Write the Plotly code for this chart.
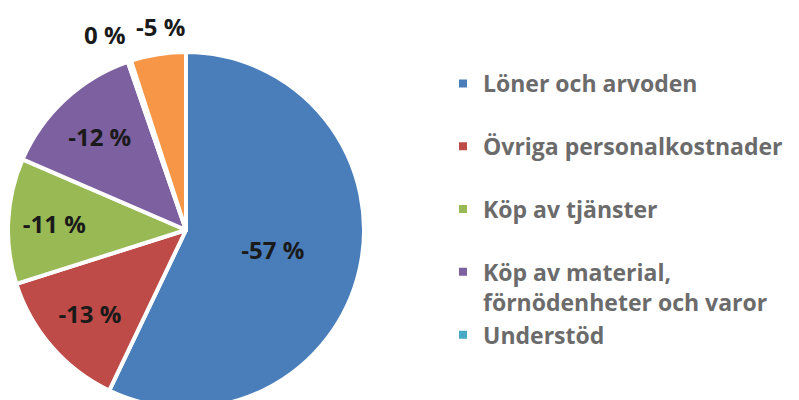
import plotly.graph_objects as go

categories = ["Löner och arvoden", "Övriga personalkostnader", "Köp av tjänster",
              "Köp av material,<br>förnödenheter och varor", "Understöd", "Övriga kostnader"]
shares = [57.1, 13.0, 11.4, 13.2, 0.3, 5.0]
label_values = [-57, -13, -11, -12, 0, -5]
colors = ["#4A7EBB", "#BE4B48", "#98B954", "#7D60A0", "#46AAC5", "#F79646"]

W, H = 799, 408

legend_labels = [c if "<br>" in c else c + "<br>\u00a0" for c in categories]
texts = [f"{v} %" for v in label_values]
positions = ["inside", "inside", "inside", "inside", "none", "none"]

label_font = dict(family="Open Sans", size=24, color="#1a1a1a", weight="bold")

fig = go.Figure()
fig.add_trace(go.Pie(
    labels=legend_labels,
    values=shares,
    text=texts,
    textinfo="text",
    textposition=positions,
    insidetextorientation="horizontal",
    sort=False,
    direction="clockwise",
    rotation=0,
    marker=dict(colors=colors, line=dict(color="white", width=4)),
    textfont=label_font,
    domain=dict(x=[8/W, 364/W], y=[0, 1 - 52/H]),
    hoverinfo="label+value",
))

# outside labels for the two thin slices
outside = [(4, 105, 34), (5, 160, 27)]
for idx, px, py in outside:
    fig.add_annotation(text=texts[idx], x=px/W, y=1 - py/H, xref="paper", yref="paper",
                       showarrow=False, xanchor="center", yanchor="middle",
                       font=label_font)

fig.update_layout(
    width=W, height=H,
    margin=dict(l=0, r=0, t=0, b=0),
    paper_bgcolor="white", plot_bgcolor="white",
    showlegend=True,
    legend=dict(x=443/W, xanchor="left", y=1 - 62/H, yanchor="top",
                valign="top", maxheight=318,
                font=dict(family="Open Sans", size=23, color="#6b6b6b", weight="bold"),
                bgcolor="rgba(0,0,0,0)"),
)

post = ("document.body.style.margin='0';"
        "document.head.insertAdjacentHTML('beforeend',"
        "'<style>.legend .scrollbar{display:none !important}</style>');")

fig.write_html("out.html", post_script=post, config={"displayModeBar": False})
